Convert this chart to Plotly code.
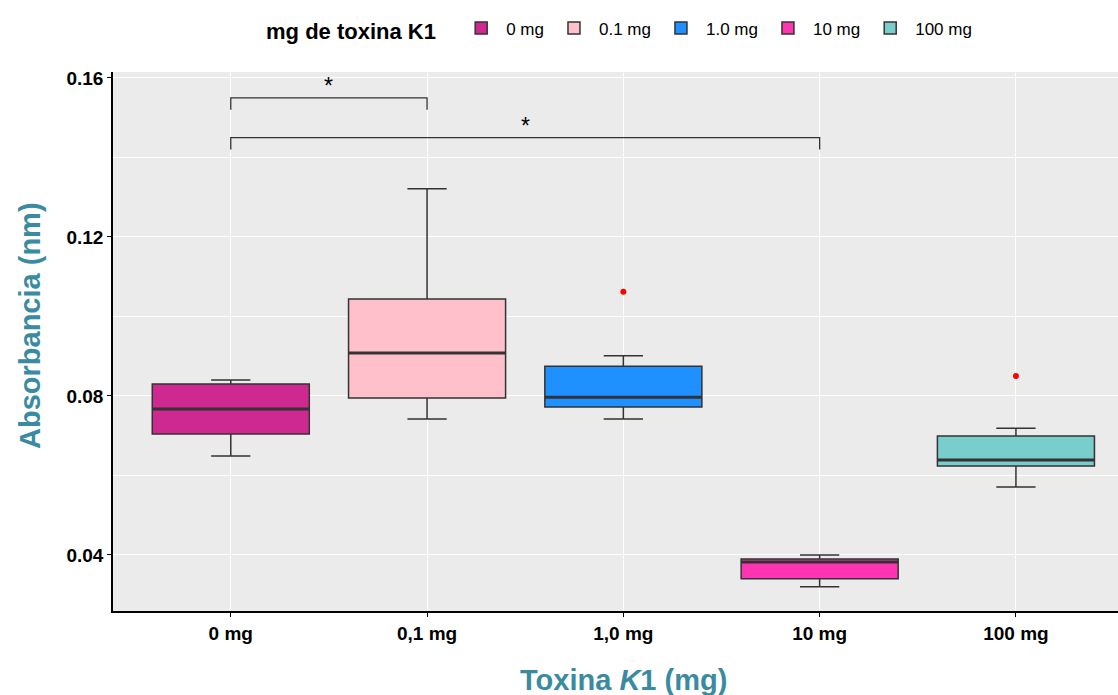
import plotly.graph_objects as go

categories = ["0 mg", "0.1 mg", "1.0 mg", "10 mg", "100 mg"]
tick_labels = ["0 mg", "0,1 mg", "1,0 mg", "10 mg", "100 mg"]
lower = [0.0649, 0.0742, 0.0742, 0.0320, 0.0571]
q1 = [0.0704, 0.0795, 0.0772, 0.0340, 0.0624]
median = [0.0767, 0.0908, 0.0797, 0.0382, 0.0639]
q3 = [0.0830, 0.1044, 0.0875, 0.0390, 0.0699]
upper = [0.0840, 0.1321, 0.0901, 0.0400, 0.0719]
outlier_x = ["1.0 mg", "100 mg"]
outlier_y = [0.1062, 0.0850]
colors = ["#CD2990", "#FFC0CB", "#1E90FF", "#FF34B3", "#79CDCD"]

# significance brackets
sig_from = ["0 mg", "0 mg"]
sig_to = ["0.1 mg", "10 mg"]
sig_y = [0.1550, 0.1450]
sig_drop = 0.0030

title_col = "#3A8BA1"
font = "Liberation Sans, Arial, sans-serif"
box_w = 0.8

fig = go.Figure()
for i, c in enumerate(categories):
    fig.add_trace(go.Box(
        x=[c], q1=[q1[i]], median=[median[i]], q3=[q3[i]],
        lowerfence=[lower[i]], upperfence=[upper[i]],
        name=c, fillcolor=colors[i],
        line=dict(color="#333333", width=1.5),
        width=box_w, whiskerwidth=0.25, boxpoints=False,
        hoverinfo="skip",
    ))

cat_idx = {c: i for i, c in enumerate(categories)}
# thicker median lines (ggplot style)
for i, c in enumerate(categories):
    fig.add_trace(go.Scatter(
        x=[i - box_w / 2, i + box_w / 2], y=[median[i], median[i]],
        mode="lines", line=dict(color="#333333", width=3),
        showlegend=False, hoverinfo="skip", xaxis="x2",
    ))

fig.add_trace(go.Scatter(
    x=outlier_x, y=outlier_y, mode="markers",
    marker=dict(color="red", size=6), showlegend=False, hoverinfo="skip",
))

for a, b, y in zip(sig_from, sig_to, sig_y):
    xa, xb = cat_idx[a], cat_idx[b]
    fig.add_trace(go.Scatter(
        x=[xa, xa, xb, xb], y=[y - sig_drop, y, y, y - sig_drop],
        mode="lines", line=dict(color="#333333", width=1.3),
        showlegend=False, hoverinfo="skip", xaxis="x2",
    ))
    fig.add_annotation(x=(xa + xb) / 2, y=y, xref="x2", yref="y",
                       text="*", showarrow=False, yanchor="bottom", yshift=-3,
                       font=dict(size=23, color="black", family=font))

# axis titles
fig.add_annotation(x=-0.0826, y=0.5306, xref="paper", yref="paper",
                   text="<b>Absorbancia (nm)</b>", textangle=-90, showarrow=False,
                   xanchor="center", yanchor="middle",
                   font=dict(size=29, color=title_col, family=font))
fig.add_annotation(x=0.5075, y=-0.128, xref="paper", yref="paper",
                   text="<b>Toxina <i>K</i>1 (mg)</b>", showarrow=False,
                   xanchor="center", yanchor="middle",
                   font=dict(size=29, color=title_col, family=font))

fig.update_layout(
    width=1118, height=695,
    margin=dict(l=113, r=0, t=72, b=84),
    paper_bgcolor="white", plot_bgcolor="#EBEBEB",
    boxmode="overlay",
    font=dict(family=font, color="black"),
    legend=dict(
        orientation="h", x=0.505, xanchor="center", y=1.078, yanchor="middle",
        title=dict(text="<b>mg de toxina K1</b>  ", font=dict(size=22, color="black")),
        font=dict(size=17, color="black"), itemwidth=40,
        bgcolor="rgba(0,0,0,0)",
    ),
    xaxis=dict(
        type="category", categoryorder="array", categoryarray=categories,
        tickvals=categories, ticktext=[f"<b>{t}</b>" for t in tick_labels],
        range=[-0.6, 4.52], showgrid=True, gridcolor="white", gridwidth=1.2,
        showline=True, linecolor="black", linewidth=1.5,
        ticks="outside", ticklen=4, tickcolor="black",
        tickfont=dict(size=19, color="black"),
        zeroline=False,
    ),
    xaxis2=dict(
        overlaying="x", range=[-0.6, 4.52], visible=False, showgrid=False,
    ),
    yaxis=dict(
        range=[0.0259, 0.1615], tick0=0.04, dtick=0.04, tickformat=".2f",
        showgrid=True, gridcolor="white", gridwidth=1.2,
        minor=dict(dtick=0.02, tick0=0.0, showgrid=True, gridcolor="white", gridwidth=0.6),
        showline=True, linecolor="black", linewidth=1.5,
        ticks="outside", ticklen=4, tickcolor="black",
        tickfont=dict(size=19, color="black", weight="bold"),
        zeroline=False,
    ),
)

fig.write_html("out.html")
